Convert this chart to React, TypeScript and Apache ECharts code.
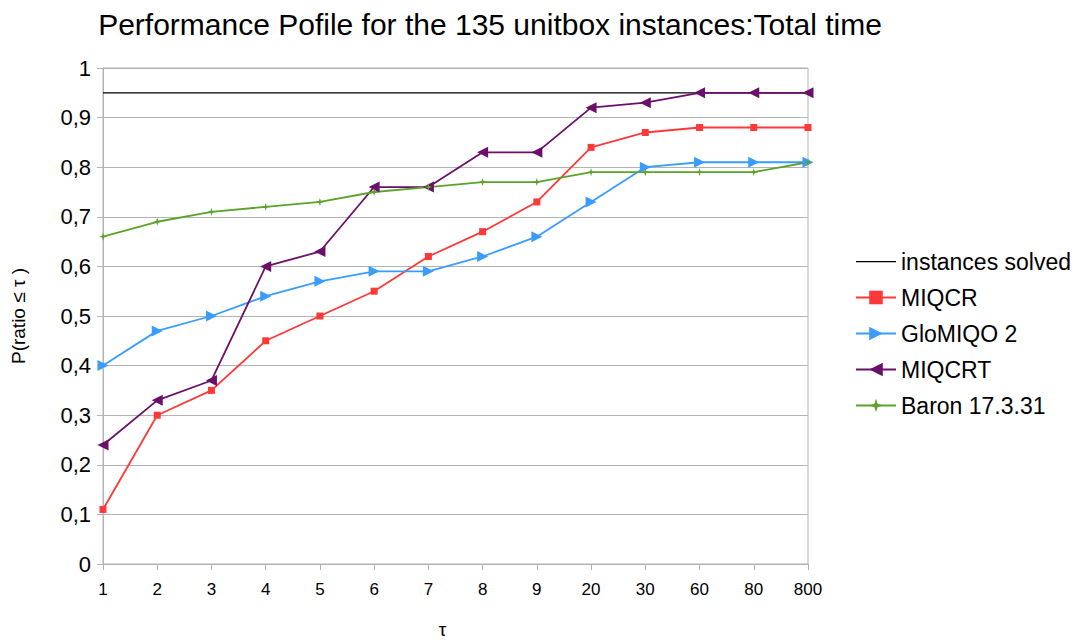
import React, { useEffect, useRef } from "react";
import * as echarts from "echarts";

const categories = ["1", "2", "3", "4", "5", "6", "7", "8", "9", "20", "30", "60", "80", "800"];
const instancesSolved = [0.95, 0.95, 0.95, 0.95, 0.95, 0.95, 0.95, 0.95, 0.95, 0.95, 0.95, 0.95, 0.95, 0.95];
const miqcr = [0.11, 0.3, 0.35, 0.45, 0.5, 0.55, 0.62, 0.67, 0.73, 0.84, 0.87, 0.88, 0.88, 0.88];
const gloMiqo = [0.4, 0.47, 0.5, 0.54, 0.57, 0.59, 0.59, 0.62, 0.66, 0.73, 0.8, 0.81, 0.81, 0.81];
const miqcrt = [0.24, 0.33, 0.37, 0.6, 0.63, 0.76, 0.76, 0.83, 0.83, 0.92, 0.93, 0.95, 0.95, 0.95];
const baron = [0.66, 0.69, 0.71, 0.72, 0.73, 0.75, 0.76, 0.77, 0.77, 0.79, 0.79, 0.79, 0.79, 0.81];

const FONT = "Liberation Sans";

export default function App() {
  const ref = useRef<HTMLDivElement>(null);
  useEffect(() => {
    if (!ref.current) return;
    const chart = echarts.init(ref.current, undefined, { renderer: "svg" });
    const triRight = "path://M0,0 L10,5 L0,10 Z";
    const triLeft = "path://M10,0 L0,5 L10,10 Z";
    const star = "path://M5,0 L6.2,3.8 L10,5 L6.2,6.2 L5,10 L3.8,6.2 L0,5 L3.8,3.8 Z";
    const lineIcon =
      "path://M0,0 L0.01,0 L0,0.01 Z M0,8 L40,8 L40,9.2 L0,9.2 Z M39.99,17 L40,16.99 L40,17 Z";
    chart.setOption({
      animation: false,
      backgroundColor: "#ffffff",
      textStyle: { fontFamily: FONT },
      title: {
        text: "Performance Pofile for the 135 unitbox instances:Total time",
        left: 485,
        textAlign: "center",
        top: 4,
        textStyle: { fontFamily: FONT, fontSize: 30, fontWeight: "normal", color: "#000" },
      },
      grid: {
        left: 103,
        top: 68,
        width: 705,
        height: 503,
        show: true,
        borderColor: "#b3b3b3",
        borderWidth: 1,
      },
      legend: {
        orient: "vertical",
        left: 850,
        top: 245,
        itemWidth: 40,
        itemHeight: 17,
        itemGap: 13,
        textStyle: { fontFamily: FONT, fontSize: 23, color: "#000" },
        data: [
          { name: "instances solved", icon: lineIcon },
          "MIQCR",
          "GloMIQO 2",
          "MIQCRT",
          "Baron 17.3.31",
        ],
      },
      xAxis: {
        type: "category",
        data: categories,
        boundaryGap: false,
        name: "τ",
        nameLocation: "middle",
        nameGap: 56,
        nameTextStyle: { fontFamily: FONT, fontSize: 19, color: "#000", padding: [0, 26, 0, 0] },
        axisLine: { lineStyle: { color: "#b3b3b3" } },
        axisTick: { show: true, length: 6, lineStyle: { color: "#b3b3b3" } },
        axisLabel: { fontFamily: FONT, fontSize: 17, color: "#000", margin: 17 },
        splitLine: { show: false },
      },
      yAxis: {
        type: "value",
        min: 0,
        max: 1,
        interval: 0.1,
        name: "P(ratio ≤ τ )",
        nameLocation: "middle",
        nameGap: 75,
        nameTextStyle: { fontFamily: FONT, fontSize: 19, color: "#000" },
        axisLine: { show: true, lineStyle: { color: "#b3b3b3" } },
        axisTick: { show: true, length: 6, lineStyle: { color: "#b3b3b3" } },
        axisLabel: {
          fontFamily: FONT,
          fontSize: 22,
          color: "#000",
          margin: 12,
          formatter: (v: number) => (Math.round(v * 10) / 10).toString().replace(".", ","),
        },
        splitLine: { lineStyle: { color: "#b3b3b3", width: 1 } },
      },
      series: [
        {
          name: "instances solved",
          type: "line",
          data: instancesSolved,
          symbol: "none",
          lineStyle: { color: "#000", width: 1.2 },
          itemStyle: { color: "#000" },
        },
        {
          name: "MIQCR",
          type: "line",
          data: miqcr,
          symbol: "rect",
          symbolSize: 7,
          lineStyle: { color: "#ff3838", width: 1.8 },
          itemStyle: { color: "#ff3838" },
        },
        {
          name: "GloMIQO 2",
          type: "line",
          data: gloMiqo,
          symbol: triRight,
          symbolSize: 11,
          lineStyle: { color: "#3a9cff", width: 1.8 },
          itemStyle: { color: "#3a9cff" },
        },
        {
          name: "MIQCRT",
          type: "line",
          data: miqcrt,
          symbol: triLeft,
          symbolSize: 11,
          lineStyle: { color: "#6b0f6b", width: 1.8 },
          itemStyle: { color: "#6b0f6b" },
        },
        {
          name: "Baron 17.3.31",
          type: "line",
          data: baron,
          symbol: star,
          symbolSize: 8,
          lineStyle: { color: "#5ba32b", width: 1.8 },
          itemStyle: { color: "#5ba32b" },
        },
      ],
    });
    return () => chart.dispose();
  }, []);
  return (
    <div
      ref={ref}
      style={{ position: "fixed", left: 0, top: 0, width: 1080, height: 644, background: "#fff" }}
    />
  );
}
